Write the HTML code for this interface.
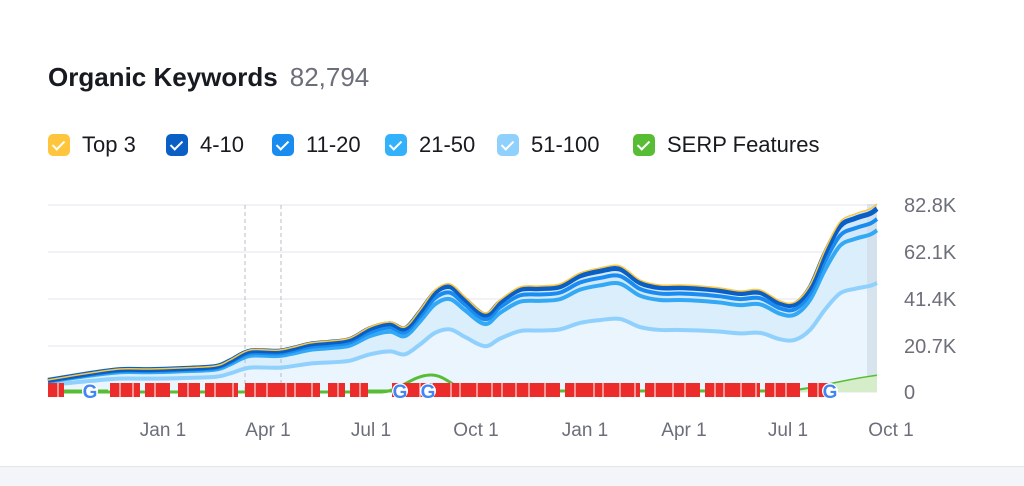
<!DOCTYPE html>
<html><head><meta charset="utf-8"><style>
body{margin:0;width:1024px;height:485px;background:#fff;font-family:"Liberation Sans",sans-serif;overflow:hidden;position:relative}
.bot{position:absolute;left:0;top:466px;width:1024px;height:19px;background:#f4f5f9;border-top:1px solid #e3e5ea}
.title{position:absolute;left:48px;top:62px;font-size:26px;font-weight:bold;color:#181a21;white-space:nowrap}
.title span{font-weight:normal;color:#6c6e79;margin-left:12px}
.it{position:absolute;top:132px;display:flex;align-items:center;font-size:22px;color:#181a21;white-space:nowrap}
.cb{width:22px;height:22px;border-radius:5px;margin-right:12px;position:relative}
.cb:after{content:"";position:absolute;left:7px;top:4px;width:5px;height:10px;border:solid #fff;border-width:0 2.5px 2.5px 0;transform:rotate(45deg)}
</style></head><body>
<div class="title">Organic Keywords<span>82,794</span></div>
<div class="it" style="left:48px"><div class="cb" style="background:#ffc53d"></div>Top 3</div>
<div class="it" style="left:166px"><div class="cb" style="background:#0a5fc4"></div>4-10</div>
<div class="it" style="left:272px"><div class="cb" style="background:#1a8cf0"></div>11-20</div>
<div class="it" style="left:385px"><div class="cb" style="background:#33b2fb"></div>21-50</div>
<div class="it" style="left:497px"><div class="cb" style="background:#8fd0fd"></div>51-100</div>
<div class="it" style="left:633px"><div class="cb" style="background:#58bd35"></div>SERP Features</div>
<svg id="s" width="1024" height="485" style="position:absolute;left:0;top:0" font-family="Liberation Sans, sans-serif"></svg>
<div class="bot"></div>
<script>
var pts=[[48,380],[90,373],[120,369],[150,369],[180,368],[215,366],[230,360],[250,350],[280,350],[310,343],[330,341],[350,338],[370,327],[390,322],[405,327],[420,310],[435,290],[450,284],[465,297],[485,313],[500,300],[520,287],[540,286],[560,284],[580,273],[600,268],[620,266],[640,280],[660,285],[680,285],[700,286],[720,288],[740,291],[760,290],[780,301],[795,302],[810,285],[825,250],[840,222],[855,214],[870,209],[877,204]];
var B=392;
function line(f){return pts.map(function(p){return [p[0],B-(B-p[1])*f]});}
function d(a){var s="M"+a[0][0]+","+a[0][1];for(var i=0;i<a.length-1;i++){var p0=a[Math.max(i-1,0)],p1=a[i],p2=a[i+1],p3=a[Math.min(i+2,a.length-1)];
var c1x=p1[0]+(p2[0]-p0[0])/6,c1y=p1[1]+(p2[1]-p0[1])/6,c2x=p2[0]-(p3[0]-p1[0])/6,c2y=p2[1]-(p3[1]-p1[1])/6;
s+=" C"+c1x.toFixed(1)+","+c1y.toFixed(1)+" "+c2x.toFixed(1)+","+c2y.toFixed(1)+" "+p2[0]+","+p2[1];}return s;}
function area(a){return d(a)+" L877,"+B+" L48,"+B+" Z";}
var h='';
[205,252,299,346,392].forEach(function(y){h+='<line x1="48" x2="877" y1="'+y+'" y2="'+y+'" stroke="#e4e6ec" stroke-width="1"/>';});
var labs=["82.8K","62.1K","41.4K","20.7K","0"];
[205,252,299,346,392].forEach(function(y,i){h+='<text x="904" y="'+(y+7)+'" font-size="20" fill="#6c6e79">'+labs[i]+'</text>';});
[["Jan 1",163],["Apr 1",268],["Jul 1",371],["Oct 1",476],["Jan 1",585],["Apr 1",684],["Jul 1",788],["Oct 1",891]].forEach(function(l){h+='<text x="'+l[1]+'" y="436" font-size="19" fill="#6c6e79" text-anchor="middle">'+l[0]+'</text>';});
h+='<path d="'+area(line(1))+'" fill="#d3e9fb"/>';
h+='<path d="'+area(line(0.86))+'" fill="#dbeefc"/>';
h+='<path d="'+area(line(0.58))+'" fill="#eaf5fe"/>';
h+='<rect x="867" y="204" width="10" height="188" fill="#cfdbe6" opacity="0.7"/>';
h+='<line x1="245" x2="245" y1="205" y2="392" stroke="#b9bcc4" stroke-dasharray="4,3"/>';
h+='<line x1="281" x2="281" y1="205" y2="392" stroke="#b9bcc4" stroke-dasharray="4,3"/>';
h+='<path d="'+d(line(0.58))+'" fill="none" stroke="#8fd0fd" stroke-width="4"/>';
h+='<path d="'+d(line(0.86))+'" fill="none" stroke="#33a8f5" stroke-width="4"/>';
h+='<path d="'+d(line(0.92))+'" fill="none" stroke="#1a8cf0" stroke-width="4"/>';
h+='<path d="'+d(line(0.975))+'" fill="none" stroke="#0a5fc4" stroke-width="5"/>';
h+='<path d="'+d(line(1))+'" fill="none" stroke="#ffc53d" stroke-width="1.5"/>';
h+='<path d="M48,392 L380,392 C400,392 410,376 430,375 C445,374 455,390 470,391 L790,391 C820,388 840,381 877,376" fill="none" stroke="#58bd35" stroke-width="3"/>';
h+='<path d="M790,392 C820,388 840,381 877,376 L877,392Z" fill="#d5eec9"/>';
var segs=[[48,64],[110,140],[145,170],[178,200],[205,238],[245,320],[328,345],[350,368],[392,560],[565,640],[645,700],[705,760],[765,800],[808,830]];
segs.forEach(function(s){h+='<rect x="'+s[0]+'" y="383" width="'+(s[1]-s[0])+'" height="14" fill="#ec2b2b"/>';
for(var x=s[0]+10;x<s[1]-3;x+=9+((x*7)%11)){h+='<line x1="'+x+'" x2="'+x+'" y1="383" y2="397" stroke="#fff" stroke-width="1"/>';}});
h+='<line x1="64" x2="108" y1="391" y2="391" stroke="#58bd35" stroke-width="3"/>';
h+='<line x1="368" x2="392" y1="391" y2="391" stroke="#58bd35" stroke-width="3"/>';
[90,400,428,830].forEach(function(x){h+='<circle cx="'+x+'" cy="391" r="8" fill="#fff"/><text x="'+x+'" y="398" font-size="19" font-weight="bold" fill="#4285f4" text-anchor="middle">G</text>';});
document.getElementById('s').innerHTML=h;
</script>
</body></html>
